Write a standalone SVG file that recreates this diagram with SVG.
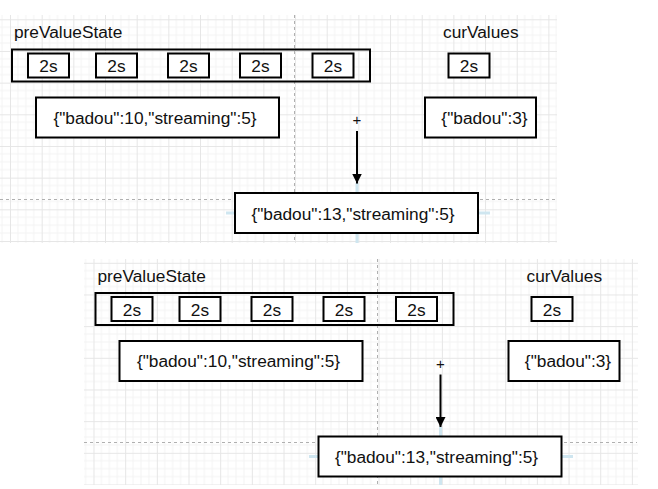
<svg xmlns="http://www.w3.org/2000/svg" width="658" height="489" viewBox="0 0 658 489">
  <defs>
    <pattern id="gridTop" patternUnits="userSpaceOnUse" x="10" y="19.3" width="31.67" height="31.67">
      <path d="M7.92 0V31.67M15.83 0V31.67M23.75 0V31.67M0 7.92H31.67M0 15.83H31.67M0 23.75H31.67" stroke="#f4f4f4" stroke-width="1" fill="none"/>
      <path d="M0.5 0V31.67M0 0.5H31.67" stroke="#e6e6e6" stroke-width="1" fill="none"/>
    </pattern>
    <pattern id="gridBot" patternUnits="userSpaceOnUse" x="93.5" y="262.8" width="31.67" height="31.67">
      <path d="M7.92 0V31.67M15.83 0V31.67M23.75 0V31.67M0 7.92H31.67M0 15.83H31.67M0 23.75H31.67" stroke="#f4f4f4" stroke-width="1" fill="none"/>
      <path d="M0.5 0V31.67M0 0.5H31.67" stroke="#e6e6e6" stroke-width="1" fill="none"/>
    </pattern>
    <marker id="arrow" viewBox="0 0 10 10" refX="10" refY="5" markerWidth="10" markerHeight="10" markerUnits="userSpaceOnUse" orient="auto">
      <path d="M0 0L10 5L0 10z" fill="#000"/>
    </marker>
  </defs>
  <style>
    .box { fill: #fff; stroke: #000; stroke-width: 2; }
    .outer { fill: none; stroke: #000; stroke-width: 2; }
    .t { font-family: "Liberation Sans", Arial, sans-serif; font-size: 17.3px; fill: #111; }
    .m { text-anchor: middle; }
    .plus { font-family: "Liberation Sans", Arial, sans-serif; font-size: 15px; fill: #111; text-anchor: middle; }
    .guide { stroke: #b0b0b0; stroke-width: 1; stroke-dasharray: 3 3; fill: none; }
    .hint { stroke: #cfe6f0; stroke-width: 3; fill: none; }
    .conn { stroke: #000; stroke-width: 2; fill: none; }
  </style>

  <rect width="658" height="489" fill="#fff"/>
  <!-- grid backgrounds -->
  <rect x="0" y="15" width="557" height="228" fill="url(#gridTop)"/>
  <rect x="84" y="259" width="554" height="226" fill="url(#gridBot)"/>

  <!-- guides -->
  <g id="guides">
    <line class="guide" x1="294.5" y1="15" x2="294.5" y2="243"/>
    <line class="guide" x1="0" y1="199.5" x2="557" y2="199.5"/>
    <line class="guide" x1="377.5" y1="259" x2="377.5" y2="485"/>
    <line class="guide" x1="84" y1="442.5" x2="637" y2="442.5"/>
    <line class="hint" x1="226" y1="213" x2="238" y2="213"/>
    <line class="hint" x1="478" y1="213" x2="490" y2="213"/>
    <line class="hint" x1="357" y1="183" x2="357" y2="192"/>
    <line class="hint" x1="357" y1="234" x2="357" y2="243"/>
    <line class="hint" x1="309" y1="456.5" x2="321" y2="456.5"/>
    <line class="hint" x1="561" y1="456.5" x2="573" y2="456.5"/>
    <line class="hint" x1="440.5" y1="427" x2="440.5" y2="436"/>
    <line class="hint" x1="440.5" y1="477" x2="440.5" y2="485"/>
  </g>

  <!-- ===== Top diagram ===== -->
  <g id="top-preValueState-label"><text class="t" x="14" y="38">preValueState</text></g>
  <g id="top-curValues-label"><text class="t" x="443" y="38">curValues</text></g>
  <g id="top-preValueState"><rect class="outer" x="12" y="49.5" width="358" height="32"/></g>
  <g id="top-s1"><rect class="box" x="28" y="53.5" width="41" height="24"/><text class="t m" x="48.5" y="72">2s</text></g>
  <g id="top-s2"><rect class="box" x="96" y="53.5" width="41" height="24"/><text class="t m" x="116.5" y="72">2s</text></g>
  <g id="top-s3"><rect class="box" x="168" y="53.5" width="41" height="24"/><text class="t m" x="188.5" y="72">2s</text></g>
  <g id="top-s4"><rect class="box" x="240" y="53.5" width="41" height="24"/><text class="t m" x="260.5" y="72">2s</text></g>
  <g id="top-s5"><rect class="box" x="312.5" y="53.5" width="41" height="24"/><text class="t m" x="333" y="72">2s</text></g>
  <g id="top-cur"><rect class="box" x="448.5" y="53.5" width="41" height="24"/><text class="t m" x="469" y="72">2s</text></g>
  <g id="top-state"><rect class="box" x="36" y="97.5" width="243" height="40"/><text class="t m" x="155" y="123.5">{"badou":10,"streaming":5}</text></g>
  <g id="top-curval"><rect class="box" x="425" y="97.5" width="111" height="40"/><text class="t m" x="484.5" y="123.5">{"badou":3}</text></g>
  <g id="top-plus"><text class="plus" x="357" y="125">+</text></g>
  <g id="top-result"><rect class="box" x="235" y="193" width="243" height="40"/><text class="t m" x="353" y="219.5">{"badou":13,"streaming":5}</text></g>

  <!-- ===== Bottom diagram ===== -->
  <g id="bot-preValueState-label"><text class="t" x="97.5" y="281.5">preValueState</text></g>
  <g id="bot-curValues-label"><text class="t" x="526.5" y="281.5">curValues</text></g>
  <g id="bot-preValueState"><rect class="outer" x="95.5" y="293" width="358" height="32"/></g>
  <g id="bot-s1"><rect class="box" x="111.5" y="297" width="41" height="24"/><text class="t m" x="132" y="315.5">2s</text></g>
  <g id="bot-s2"><rect class="box" x="179.5" y="297" width="41" height="24"/><text class="t m" x="200" y="315.5">2s</text></g>
  <g id="bot-s3"><rect class="box" x="251.5" y="297" width="41" height="24"/><text class="t m" x="272" y="315.5">2s</text></g>
  <g id="bot-s4"><rect class="box" x="323.5" y="297" width="41" height="24"/><text class="t m" x="344" y="315.5">2s</text></g>
  <g id="bot-s5"><rect class="box" x="396" y="297" width="41" height="24"/><text class="t m" x="416.5" y="315.5">2s</text></g>
  <g id="bot-cur"><rect class="box" x="531.5" y="297" width="41" height="24"/><text class="t m" x="552" y="315.5">2s</text></g>
  <g id="bot-state"><rect class="box" x="119.5" y="341" width="243" height="40"/><text class="t m" x="238.5" y="367">{"badou":10,"streaming":5}</text></g>
  <g id="bot-curval"><rect class="box" x="508.5" y="341" width="111" height="40"/><text class="t m" x="568" y="367">{"badou":3}</text></g>
  <g id="bot-plus"><text class="plus" x="440.5" y="368.5">+</text></g>
  <g id="bot-result"><rect class="box" x="318.5" y="436.5" width="243" height="40"/><text class="t m" x="436.5" y="463">{"badou":13,"streaming":5}</text></g>

  <!-- connectors -->
  <g id="connectors">
    <line class="conn" x1="357" y1="131" x2="357" y2="183.5" marker-end="url(#arrow)"/>
    <line class="conn" x1="440.5" y1="374.5" x2="440.5" y2="427" marker-end="url(#arrow)"/>
  </g>
</svg>
